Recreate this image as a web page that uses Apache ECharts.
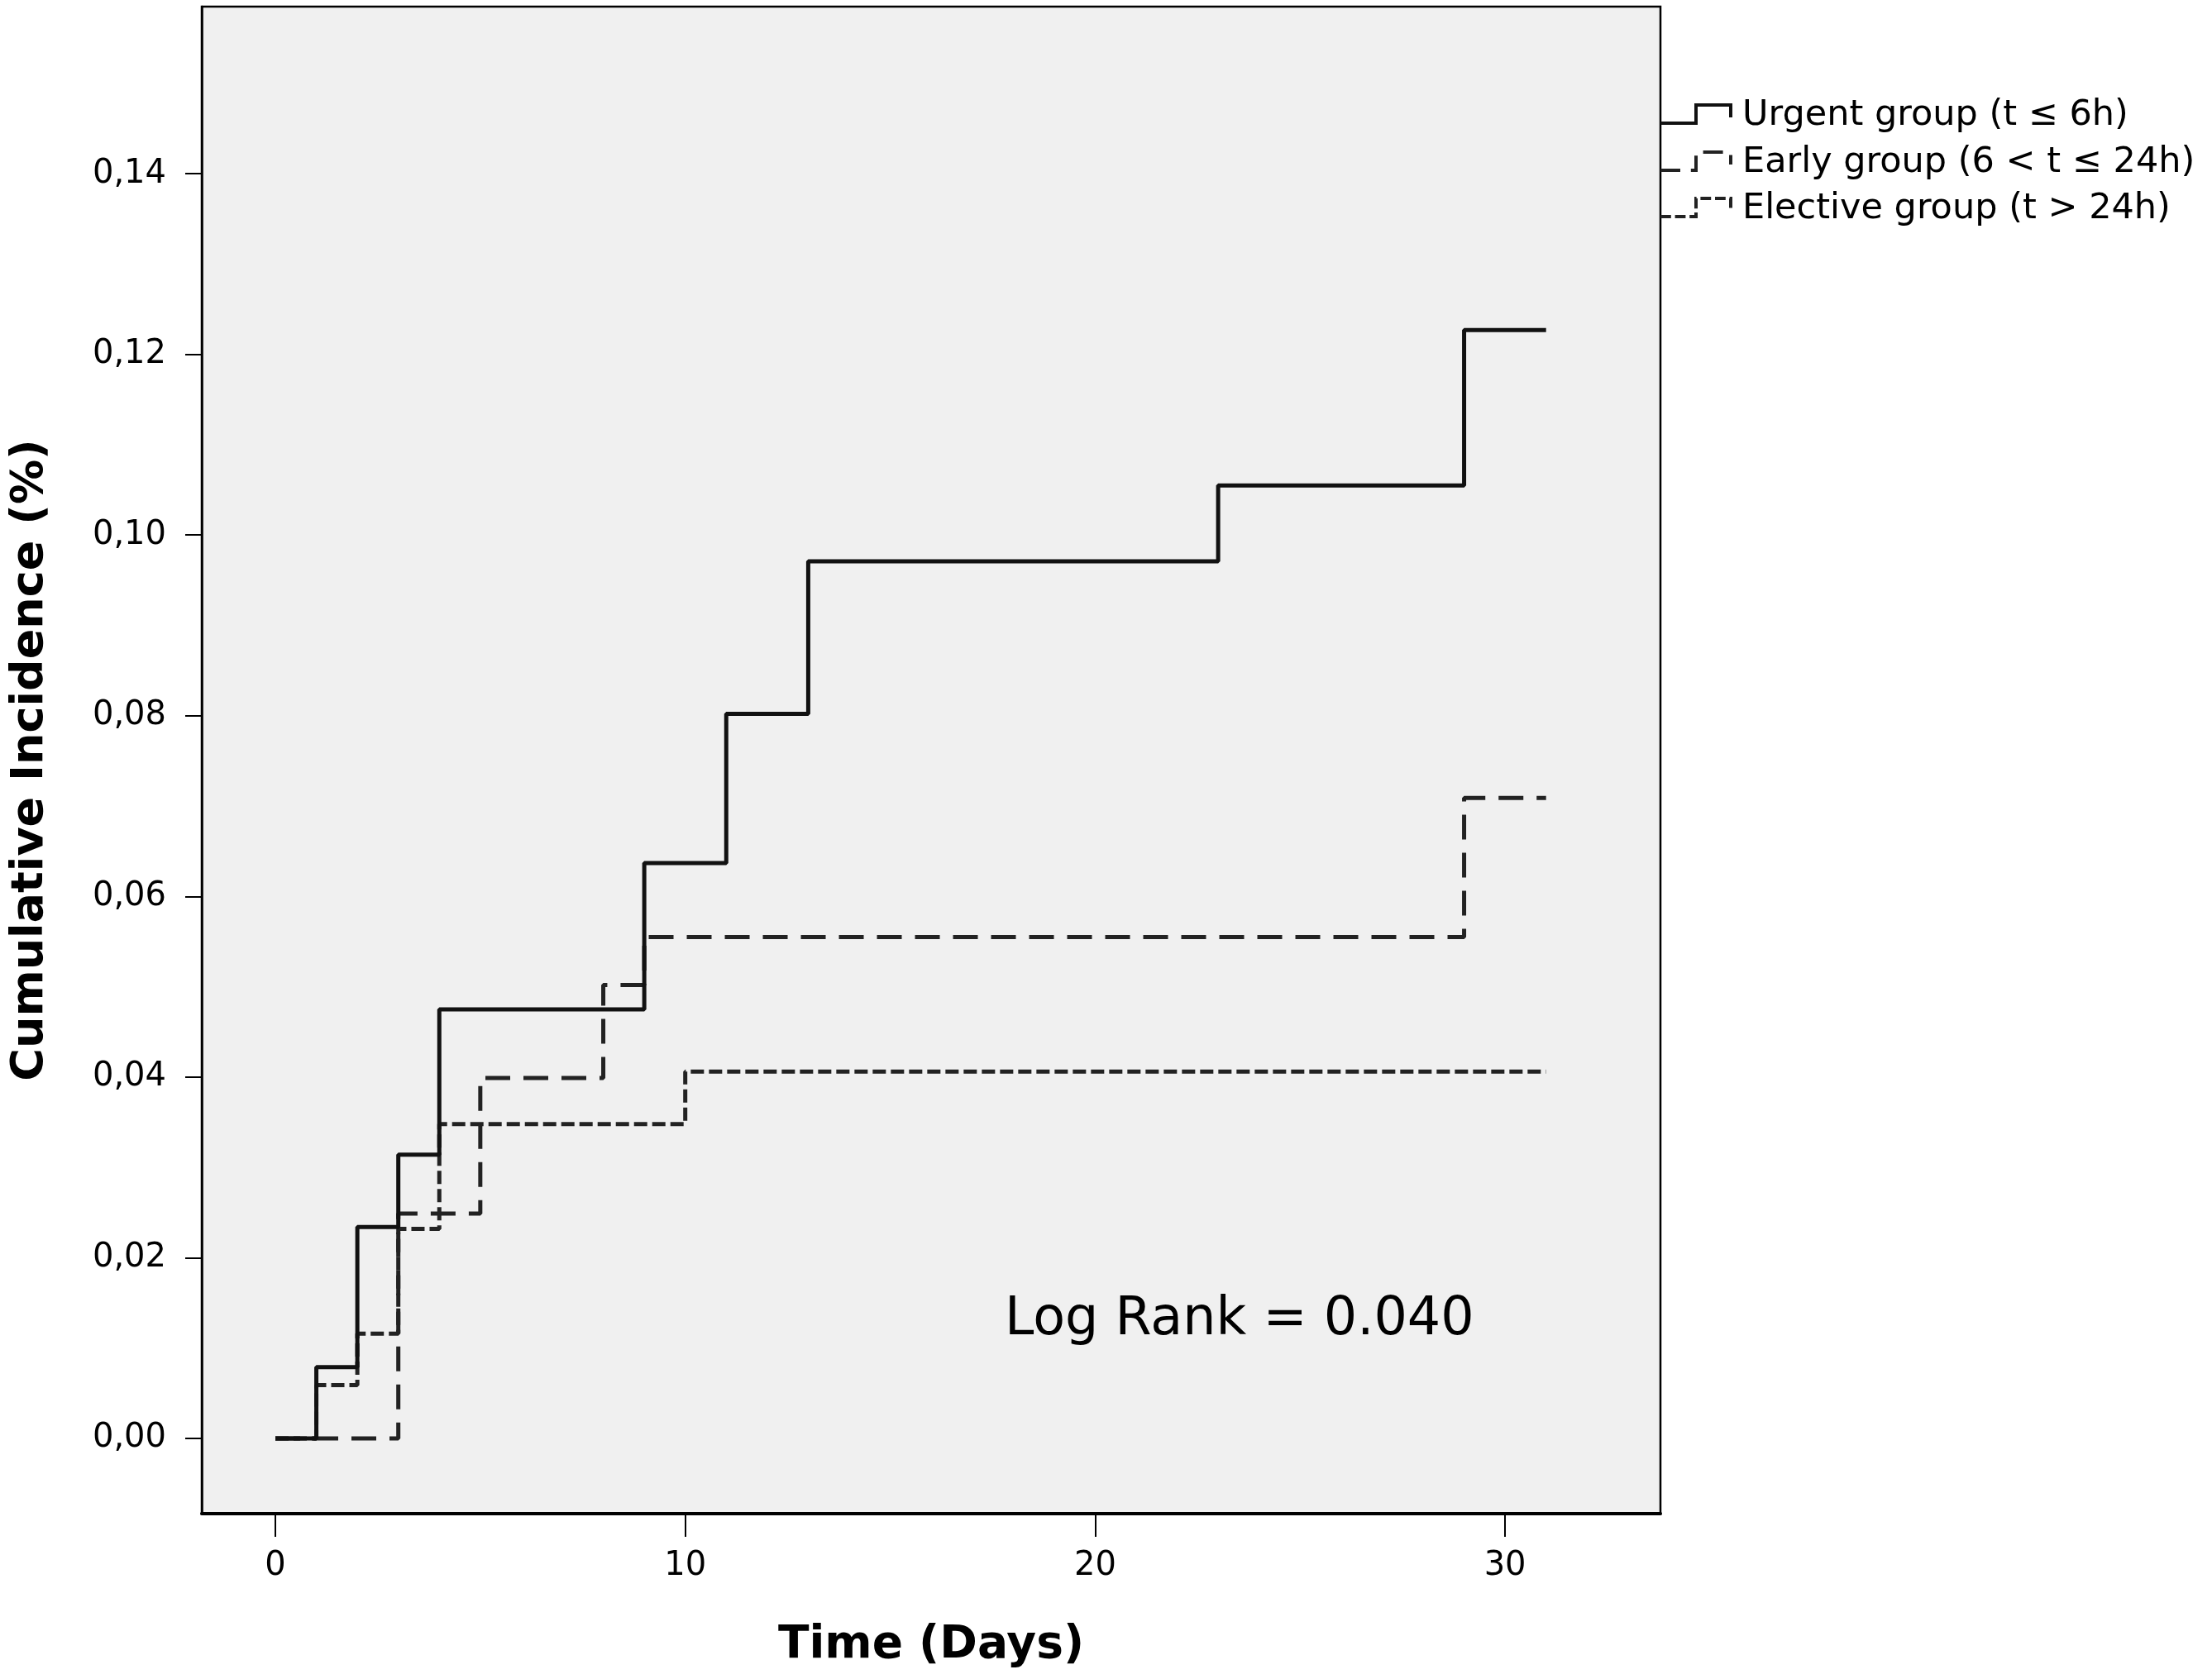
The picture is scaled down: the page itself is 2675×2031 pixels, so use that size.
<!DOCTYPE html>
<html><head><meta charset="utf-8">
<script src="https://cdn.jsdelivr.net/npm/echarts@6/dist/echarts.min.js"></script>
<style>html,body{margin:0;padding:0;background:#fff}#c{width:2675px;height:2031px}</style>
</head><body><div id="c"></div>
<script>
const urgentDays = [0, 1, 2, 3, 4, 9, 11, 13, 23, 29, 31];
const urgentValues = [0, 0.0079, 0.0234, 0.0314, 0.0475, 0.0637, 0.0802, 0.0971, 0.1055, 0.1227, 0.1227];
const earlyDays = [0, 3, 5, 8, 9, 29, 31];
const earlyValues = [0, 0.0249, 0.0399, 0.0502, 0.0555, 0.0709, 0.0709];
const electiveDays = [0, 1, 2, 3, 4, 10, 31];
const electiveValues = [0, 0.0059, 0.0116, 0.0232, 0.0348, 0.0406, 0.0406];
const xTicks = [0, 10, 20, 30];
const yTicks = [0, 0.02, 0.04, 0.06, 0.08, 0.10, 0.12, 0.14];
const seriesNames = ['Urgent group (t \u2264 6h)', 'Early group (6 < t \u2264 24h)', 'Elective group (t > 24h)'];
const xTitle = 'Time (Days)';
const yTitle = 'Cumulative Incidence (%)';
const annotation = 'Log Rank = 0.040';

const pairs = (xs, ys) => xs.map((x, i) => [x, ys[i]]);
const FONT = 'DejaVu Sans';
const styles = [
  { color: '#111', width: 5, type: 'solid' },
  { color: '#222', width: 5, type: [30, 16] },
  { color: '#222', width: 5, type: [16, 6] }
];
const chart = echarts.init(document.getElementById('c'), null, { renderer: 'canvas' });

const legendY = [140, 197, 253];
const legendGraphics = [];
seriesNames.forEach((name, i) => {
  const y = legendY[i];
  legendGraphics.push({
    type: 'polyline',
    shape: { points: [[2008, y + 9], [2051, y + 9], [2051, y - 13], [2093, y - 13], [2093, y + 2]] },
    style: { stroke: styles[i].color, lineWidth: 4, fill: null,
      lineDash: styles[i].type === 'solid' ? null : styles[i].type.map(v => v * 0.8) }
  });
  legendGraphics.push({
    type: 'text', x: 2107, y: y,
    style: { text: name, font: '43px "' + FONT + '"', fill: '#000', verticalAlign: 'middle', align: 'left' }
  });
});
legendGraphics.push({
  type: 'text', x: 1215, y: 1597,
  style: { text: annotation, font: '63.5px "' + FONT + '"', fill: '#000', verticalAlign: 'middle', align: 'left' }
});

chart.setOption({
  animation: false,
  backgroundColor: '#fff',
  grid: { left: 244, right: 667, top: 8, bottom: 200, show: true, backgroundColor: '#f0f0f0',
    borderColor: '#000', borderWidth: 2.5 },
  xAxis: {
    type: 'value', min: -1.795, max: 33.79,
    name: xTitle, nameLocation: 'middle', nameGap: 132,
    nameTextStyle: { fontFamily: FONT, fontWeight: 'bold', fontSize: 55, color: '#000' },
    axisLine: { show: true, onZero: false, lineStyle: { color: '#000', width: 4 } },
    axisTick: { show: true, length: 28, inside: false, customValues: xTicks, lineStyle: { color: '#000', width: 2 } },
    axisLabel: { customValues: xTicks, margin: 44, fontFamily: FONT, fontSize: 40, color: '#000' },
    splitLine: { show: false }
  },
  yAxis: {
    type: 'value', min: -0.00833, max: 0.1585,
    name: yTitle, nameLocation: 'middle', nameGap: 180,
    nameTextStyle: { fontFamily: FONT, fontWeight: 'bold', fontSize: 54, color: '#000' },
    axisLine: { show: true, onZero: false, lineStyle: { color: '#000', width: 2.5 } },
    axisTick: { show: true, length: 20, customValues: yTicks, lineStyle: { color: '#000', width: 2 } },
    axisLabel: { customValues: yTicks, margin: 43, fontFamily: FONT, fontSize: 40, color: '#000',
      formatter: v => v.toFixed(2).replace('.', ',') },
    splitLine: { show: false }
  },
  series: [
    { name: seriesNames[1], type: 'line', step: 'end', showSymbol: false, symbol: 'none', z: 2,
      data: pairs(earlyDays, earlyValues), lineStyle: styles[1] },
    { name: seriesNames[2], type: 'line', step: 'end', showSymbol: false, symbol: 'none', z: 3,
      data: pairs(electiveDays, electiveValues), lineStyle: styles[2] },
    { name: seriesNames[0], type: 'line', step: 'end', showSymbol: false, symbol: 'none', z: 4,
      data: pairs(urgentDays, urgentValues), lineStyle: styles[0] }
  ],
  graphic: legendGraphics
});
</script></body></html>
